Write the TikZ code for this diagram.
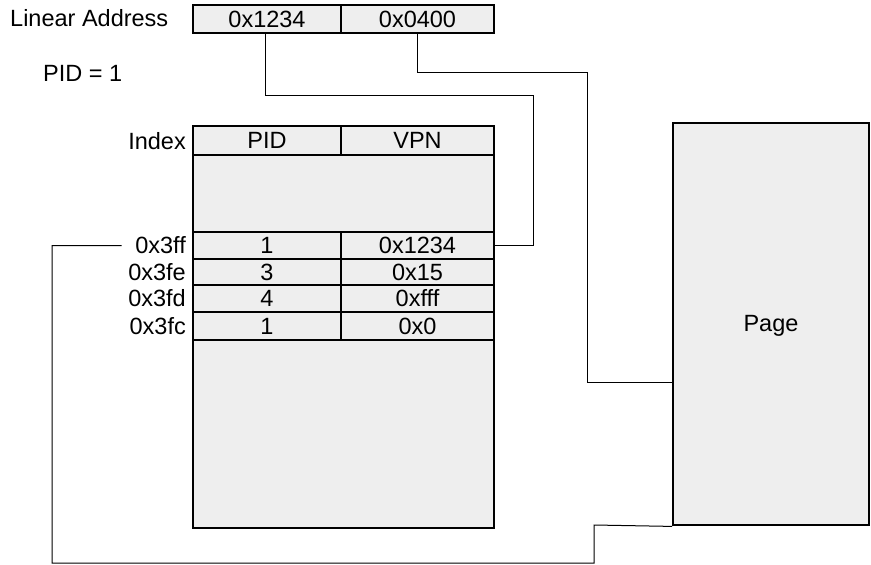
\documentclass[tikz,border=0pt]{standalone}
\usepackage{fontspec}
\setmainfont{Liberation Sans}
\definecolor{cellfill}{HTML}{EEEEEE}
\begin{document}
\begin{tikzpicture}[x=1pt,y=-1pt,
  every node/.style={font=\fontsize{23.5pt}{27pt}\selectfont},
  cell/.style 2 args={draw, fill=cellfill, line width=2.8pt, minimum width=#1pt, minimum height=#2pt, inner sep=0pt},
  lbl/.style={inner sep=0pt},
  wire/.style={line width=1pt, line cap=rect}]
\useasboundingbox (0,0) rectangle (871,565);
% linear address
\node[lbl, anchor=west] (la) at (10,18) {Linear Address};
\node[cell={148}{28}] (a1) at (267,19) {0x1234};
\node[cell={153}{28}] (a2) at (417.5,19) {0x0400};
\node[lbl, anchor=west] (pid) at (43,73) {PID = 1};
% table
\node[cell={148}{29}] (hp) at (267,140.5) {PID};
\node[cell={153}{29}] (hv) at (417.5,140.5) {VPN};
\node[lbl, anchor=east] (idx) at (186,141) {Index};
\node[cell={301}{77}] (up) at (343.5,193.5) {};
\node[cell={148}{27}] (p1) at (267,245.5) {1};
\node[cell={153}{27}] (v1) at (417.5,245.5) {0x1234};
\node[cell={148}{26}] (p2) at (267,272) {3};
\node[cell={153}{26}] (v2) at (417.5,272) {0x15};
\node[cell={148}{27}] (p3) at (267,298.5) {4};
\node[cell={153}{27}] (v3) at (417.5,298.5) {0xfff};
\node[cell={148}{28}] (p4) at (267,326) {1};
\node[cell={153}{28}] (v4) at (417.5,326) {0x0};
\node[cell={301}{188}] (lo) at (343.5,434) {};
\node[lbl, anchor=east] (l1) at (186,245.5) {0x3ff};
\node[lbl, anchor=east] (l2) at (186,272) {0x3fe};
\node[lbl, anchor=east] (l3) at (186,298.5) {0x3fd};
\node[lbl, anchor=east] (l4) at (186,326) {0x3fc};
% page
\node[cell={196}{402}] (pg) at (771,324) {};
\node[lbl] (pgt) at (771,326) {Page};
\coordinate (pin) at (673,382);
% connectors
\draw[wire] ([xshift=-2pt]a1.south) |- (533,95) |- (v1.east);
\draw[wire] (a2.south) |- (587,72) |- (pin);
\draw[wire] ([xshift=-14pt]l1.west) -| (52,563) -| (594,525) -- (pg.south west);
\end{tikzpicture}
\end{document}
